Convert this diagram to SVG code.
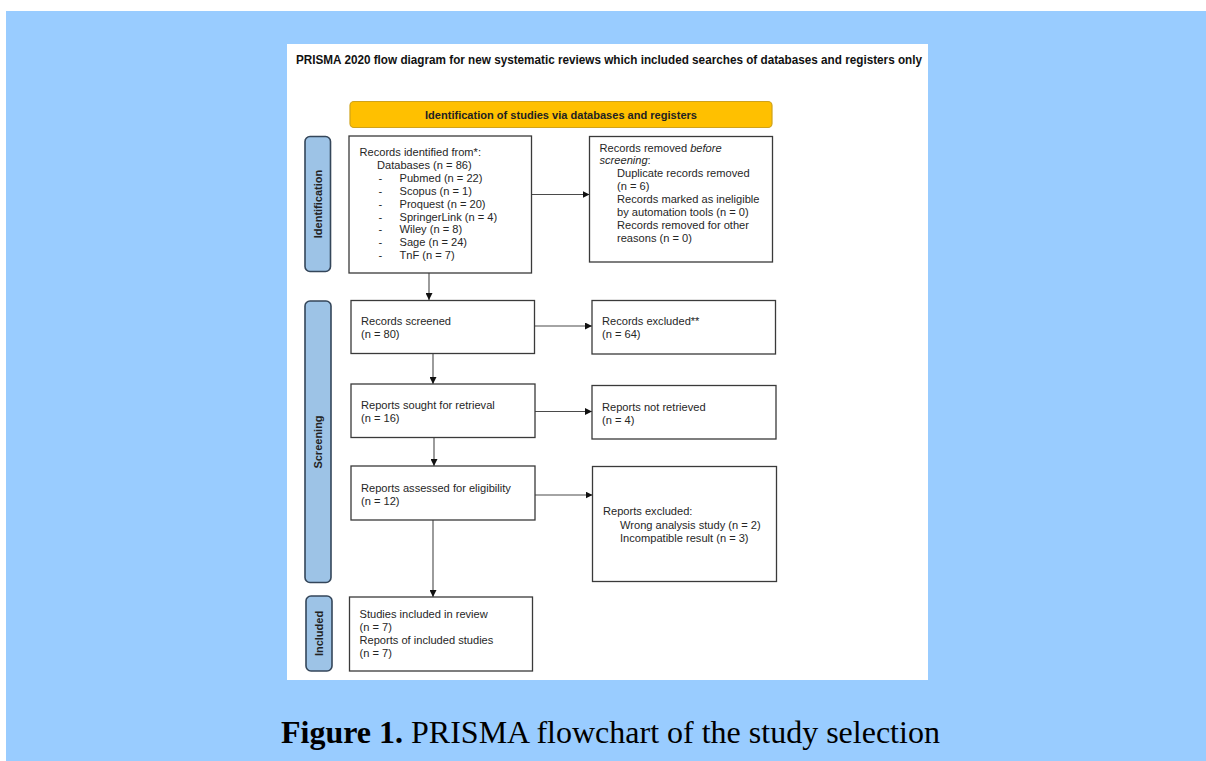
<svg xmlns="http://www.w3.org/2000/svg" width="1206" height="761" viewBox="0 0 1206 761">
<defs>
<marker id="ah" viewBox="0 0 10 10" refX="10" refY="5" markerWidth="7" markerHeight="7" markerUnits="userSpaceOnUse" orient="auto">
<path d="M0,0 L10,5 L0,10 z" fill="#111"/>
</marker>
<style>
.box{fill:#fff;stroke:#3a3a3a;stroke-width:1.3}
.side{fill:#9DC3E6;stroke:#34465a;stroke-width:1.6}
.t{font-family:"Liberation Sans",Arial,sans-serif;font-size:11.1px;fill:#262626}
.sl{font-family:"Liberation Sans",Arial,sans-serif;font-size:11px;font-weight:bold;fill:#222;text-anchor:middle}
.c{stroke:#4a4a4a;stroke-width:1.1;fill:none;marker-end:url(#ah)}
</style>
</defs>
<rect x="0" y="0" width="1206" height="761" fill="#fff"/>
<rect x="6" y="11" width="1200" height="750" fill="#99CCFF"/>
<rect x="287" y="44" width="641" height="636" fill="#fff"/>
<text x="296" y="64" font-family="'Liberation Sans',Arial,sans-serif" font-size="12.5" font-weight="bold" fill="#111" textLength="626" lengthAdjust="spacingAndGlyphs">PRISMA 2020 flow diagram for new systematic reviews which included searches of databases and registers only</text>

<g id="header">
<rect x="350" y="101.5" width="422" height="26" rx="4" fill="#FFC000" stroke="#CFA21A" stroke-width="1.2"/>
<text x="561" y="118.5" text-anchor="middle" font-family="'Liberation Sans',Arial,sans-serif" font-size="11" font-weight="bold" fill="#222" textLength="272" lengthAdjust="spacingAndGlyphs">Identification of studies via databases and registers</text>
</g>

<g id="stage-identification">
<rect class="side" x="305" y="136.5" width="25.5" height="135" rx="5"/>
<text class="sl" transform="translate(321.5,204) rotate(-90)">Identification</text>
</g>
<g id="stage-screening">
<rect class="side" x="305" y="301" width="26" height="281.5" rx="5"/>
<text class="sl" transform="translate(322,442) rotate(-90)">Screening</text>
</g>
<g id="stage-included">
<rect class="side" x="306" y="596" width="26" height="75" rx="5"/>
<text class="sl" transform="translate(323,633.5) rotate(-90)">Included</text>
</g>

<g id="connectors">
<line class="c" x1="429" y1="273" x2="429" y2="300"/>
<line class="c" x1="433" y1="353.5" x2="433" y2="384"/>
<line class="c" x1="434" y1="437.5" x2="434" y2="466"/>
<line class="c" x1="433" y1="520" x2="433" y2="597"/>
<line class="c" x1="532" y1="194.5" x2="589.5" y2="194.5"/>
<line class="c" x1="535" y1="326" x2="592" y2="326"/>
<line class="c" x1="535" y1="411.5" x2="592" y2="411.5"/>
<line class="c" x1="535" y1="495" x2="592.5" y2="495"/>
</g>

<g id="records-identified">
<rect class="box" x="349" y="136" width="182.5" height="137"/>
<text class="t" x="359.5" y="156">Records identified from*:</text>
<text class="t" x="377" y="168.9">Databases (n = 86)</text>
<text class="t" x="378.5" y="181.8">-</text><text class="t" x="399.5" y="181.8">Pubmed (n = 22)</text>
<text class="t" x="378.5" y="194.7">-</text><text class="t" x="399.5" y="194.7">Scopus (n = 1)</text>
<text class="t" x="378.5" y="207.6">-</text><text class="t" x="399.5" y="207.6">Proquest (n = 20)</text>
<text class="t" x="378.5" y="220.5">-</text><text class="t" x="399.5" y="220.5">SpringerLink (n = 4)</text>
<text class="t" x="378.5" y="233.4">-</text><text class="t" x="399.5" y="233.4">Wiley (n = 8)</text>
<text class="t" x="378.5" y="246.3">-</text><text class="t" x="399.5" y="246.3">Sage (n = 24)</text>
<text class="t" x="378.5" y="259.2">-</text><text class="t" x="399.5" y="259.2">TnF (n = 7)</text>
</g>

<g id="records-removed">
<rect class="box" x="589.5" y="136.5" width="183" height="125.5"/>
<text class="t" x="599.5" y="151.5">Records removed <tspan font-style="italic">before</tspan></text>
<text class="t" x="599.5" y="164.4"><tspan font-style="italic">screening</tspan>:</text>
<text class="t" x="617" y="177.3">Duplicate records removed</text>
<text class="t" x="617" y="190.2">(n = 6)</text>
<text class="t" x="617" y="203.1">Records marked as ineligible</text>
<text class="t" x="617" y="216">by automation tools (n = 0)</text>
<text class="t" x="617" y="228.9">Records removed for other</text>
<text class="t" x="617" y="241.8">reasons (n = 0)</text>
</g>

<g id="records-screened">
<rect class="box" x="351" y="300.5" width="183.5" height="53"/>
<text class="t" x="361" y="325">Records screened</text>
<text class="t" x="361" y="338">(n = 80)</text>
</g>

<g id="records-excluded">
<rect class="box" x="592" y="300.5" width="183.5" height="53.5"/>
<text class="t" x="602" y="325">Records excluded**</text>
<text class="t" x="602" y="338">(n = 64)</text>
</g>

<g id="reports-sought">
<rect class="box" x="351" y="384" width="184" height="53.5"/>
<text class="t" x="361" y="409">Reports sought for retrieval</text>
<text class="t" x="361" y="422">(n = 16)</text>
</g>

<g id="reports-not-retrieved">
<rect class="box" x="592" y="385.5" width="184" height="53.5"/>
<text class="t" x="602" y="410.5">Reports not retrieved</text>
<text class="t" x="602" y="423.5">(n = 4)</text>
</g>

<g id="reports-assessed">
<rect class="box" x="351" y="466" width="184" height="54"/>
<text class="t" x="361" y="492">Reports assessed for eligibility</text>
<text class="t" x="361" y="505">(n = 12)</text>
</g>

<g id="reports-excluded">
<rect class="box" x="592.5" y="466.5" width="184" height="115"/>
<text class="t" x="603" y="515">Reports excluded:</text>
<text class="t" x="620" y="528.5">Wrong analysis study (n = 2)</text>
<text class="t" x="620" y="542">Incompatible result (n = 3)</text>
</g>

<g id="studies-included">
<rect class="box" x="349.5" y="597" width="183" height="74"/>
<text class="t" x="359.5" y="618">Studies included in review</text>
<text class="t" x="359.5" y="631">(n = 7)</text>
<text class="t" x="359.5" y="644">Reports of included studies</text>
<text class="t" x="359.5" y="657">(n = 7)</text>
</g>

<text x="281" y="743" font-family="'Liberation Serif','Times New Roman',serif" font-size="32" fill="#000"><tspan font-weight="bold">Figure 1.</tspan> PRISMA flowchart of the study selection</text>
</svg>
